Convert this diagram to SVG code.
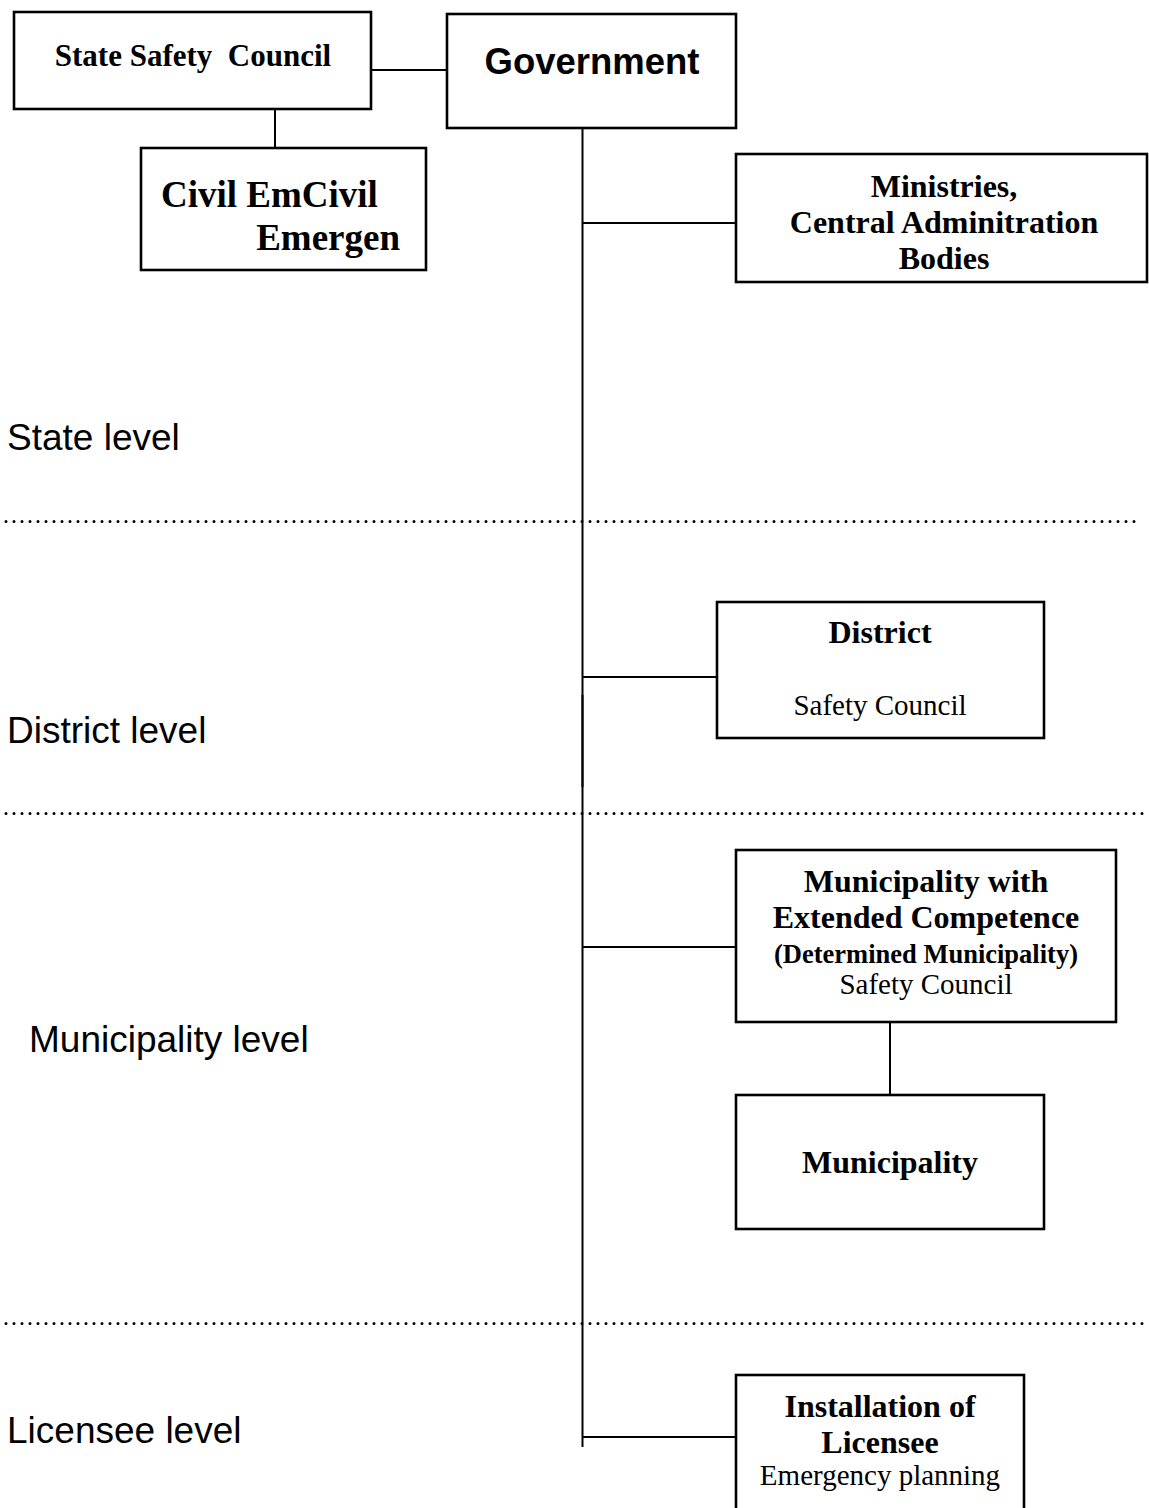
<svg xmlns="http://www.w3.org/2000/svg" width="1149" height="1508" viewBox="0 0 1149 1508">
<style>
.box{fill:#fff;stroke:#000;stroke-width:2.6}
.ln{stroke:#000;stroke-width:2;fill:none}
.dot{stroke:#000;stroke-width:3;stroke-linecap:round;stroke-dasharray:0 8;fill:none}
.b{font-family:"Liberation Serif","Times New Roman",serif;font-weight:bold;fill:#000}
.r{font-family:"Liberation Serif","Times New Roman",serif;fill:#000}
.s{font-family:"Liberation Sans",Arial,sans-serif;fill:#000}
</style>
<rect width="1149" height="1508" fill="#fff"/>
<g id="levels">
<path class="dot" d="M6 521.5H1138"/>
<path class="dot" d="M6 813.5H1149"/>
<path class="dot" d="M6 1323.5H1149"/>
<text class="s" x="7" y="450" font-size="37">State level</text>
<text class="s" x="7" y="743" font-size="37">District level</text>
<text class="s" x="29" y="1052" font-size="37">Municipality level</text>
<text class="s" x="7" y="1443" font-size="37">Licensee level</text>
</g>
<g id="connectors">
<path class="ln" d="M371 70H447"/>
<path class="ln" d="M275 109V148"/>
<path class="ln" d="M582.5 128V1447"/>
<path class="ln" d="M582.5 695V787" stroke-width="3"/>
<path class="ln" d="M583 223H736"/>
<path class="ln" d="M583 677H717"/>
<path class="ln" d="M583 947H736"/>
<path class="ln" d="M890 1022V1095"/>
<path class="ln" d="M583 1437H736"/>
</g>
<g id="state-safety-council">
<rect class="box" x="14" y="12" width="357" height="97"/>
<text class="b" x="193" y="66" font-size="31" text-anchor="middle" xml:space="preserve">State Safety  Council</text>
</g>
<g id="government">
<rect class="box" x="447" y="14" width="289" height="114"/>
<text class="s" x="592" y="74" font-size="36.5" font-weight="bold" text-anchor="middle">Government</text>
</g>
<g id="civil-emergency">
<rect class="box" x="141" y="148" width="285" height="122"/>
<text class="b" x="161" y="207" font-size="37">Civil EmCivil</text>
<text class="b" x="400" y="250" font-size="37" text-anchor="end">Emergen</text>
</g>
<g id="ministries">
<rect class="box" x="736" y="154" width="411" height="128"/>
<text class="b" x="944" y="197" font-size="32" text-anchor="middle">Ministries,</text>
<text class="b" x="944" y="233" font-size="32" text-anchor="middle">Central Adminitration</text>
<text class="b" x="944" y="269" font-size="32" text-anchor="middle">Bodies</text>
</g>
<g id="district">
<rect class="box" x="717" y="602" width="327" height="136"/>
<text class="b" x="880" y="643" font-size="32" text-anchor="middle">District</text>
<text class="r" x="880" y="715" font-size="29" text-anchor="middle">Safety Council</text>
</g>
<g id="municipality-extended">
<rect class="box" x="736" y="850" width="380" height="172"/>
<text class="b" x="926" y="892" font-size="32" text-anchor="middle">Municipality with</text>
<text class="b" x="926" y="928" font-size="32" text-anchor="middle">Extended Competence</text>
<text class="b" x="926" y="963" font-size="26.5" text-anchor="middle">(Determined Municipality)</text>
<text class="r" x="926" y="994" font-size="29" text-anchor="middle">Safety Council</text>
</g>
<g id="municipality">
<rect class="box" x="736" y="1095" width="308" height="134"/>
<text class="b" x="890" y="1173" font-size="32" text-anchor="middle">Municipality</text>
</g>
<g id="licensee">
<rect class="box" x="736" y="1375" width="288" height="140"/>
<text class="b" x="880" y="1417" font-size="32" text-anchor="middle">Installation of</text>
<text class="b" x="880" y="1453" font-size="32" text-anchor="middle">Licensee</text>
<text class="r" x="880" y="1485" font-size="29" text-anchor="middle">Emergency planning</text>
</g>
</svg>
